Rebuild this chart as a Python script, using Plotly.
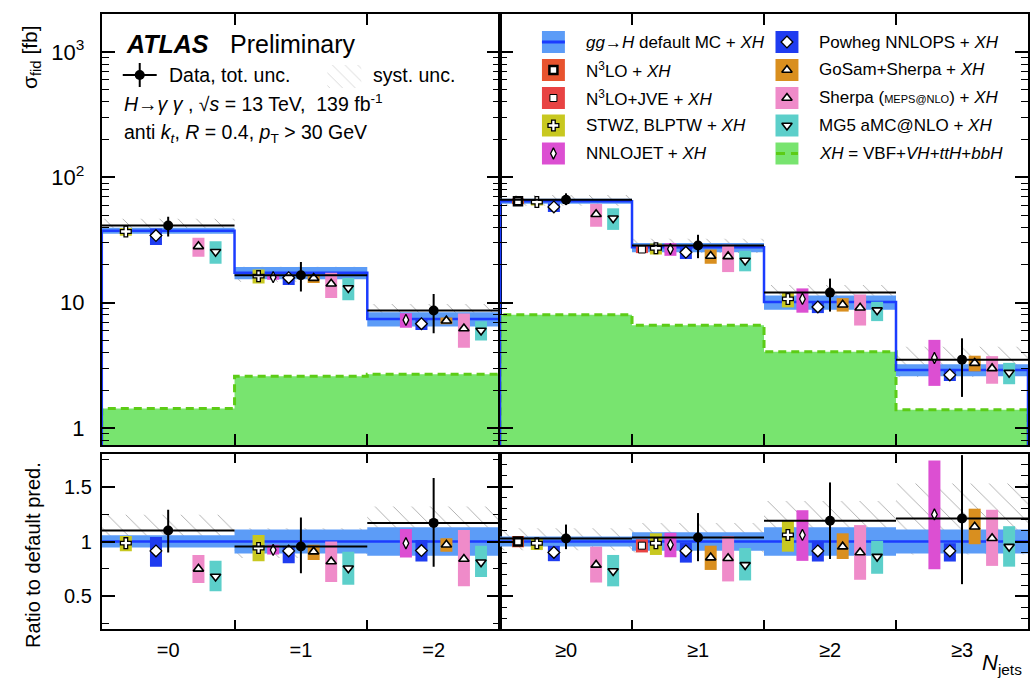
import plotly.graph_objects as go

FONT = "Liberation Sans, Arial, Helvetica, sans-serif"
W, H = 1030, 687

# ------------------------------------------------------------------ data
cat_left = ["=0", "=1", "=2"]
cat_right = ["≥0", "≥1", "≥2", "≥3"]

# default MC (gg->H + XH) cross sections [fb] and relative uncertainty
mc_default = [37.5, 17.3, 7.4, 64.5, 27.6, 10.1, 2.9]
mc_rel_unc = [0.056, 0.11, 0.13, 0.045, 0.085, 0.13, 0.11]
# XH = VBF+VH+ttH+bbH [fb]
xh_sigma = [1.43, 2.58, 2.68, 8.0, 6.6, 4.05, 1.4]

# data, as ratio to default prediction
data_ratio = [1.10, 0.955, 1.17, 1.027, 1.036, 1.19, 1.21]
data_err_up = [0.19, 0.265, 0.41, 0.128, 0.224, 0.35, 0.58]
data_err_dn = [0.20, 0.245, 0.40, 0.097, 0.216, 0.35, 0.60]
syst_lo = [0.955, 0.85, 1.02, 0.92, 0.90, 1.01, 0.88]
syst_hi = [1.245, 1.12, 1.32, 1.12, 1.17, 1.37, 1.53]

N = None
n3lo_ratio = [N, N, N, 1.0, N, N, N]
n3lo_lo = [N, N, N, 0.947, N, N, N]
n3lo_hi = [N, N, N, 1.05, N, N, N]
jve_ratio = [N, N, N, N, 0.962, N, N]
jve_lo = [N, N, N, N, 0.90, N, N]
jve_hi = [N, N, N, N, 1.02, N, N]
stwz_ratio = [0.985, 0.94, N, 0.984, 0.984, 1.06, N]
stwz_lo = [0.91, 0.82, N, 0.923, 0.877, 0.907, N]
stwz_hi = [1.05, 1.06, N, 1.03, 1.075, 1.195, N]
nnlojet_ratio = [N, 0.923, 0.984, N, 0.97, 1.06, 1.247]
nnlojet_lo = [N, 0.88, 0.853, N, 0.856, 0.823, 0.747]
nnlojet_hi = [N, 0.97, 1.114, N, 1.08, 1.286, 1.74]
powheg_ratio = [0.914, 0.914, 0.917, 0.90, 0.914, 0.914, 0.914]
powheg_lo = [0.77, 0.80, 0.817, 0.82, 0.807, 0.817, 0.817]
powheg_hi = [1.04, 0.953, 1.014, 0.96, 0.99, 1.007, 0.984]
gosam_ratio = [N, 0.907, 0.97, N, 0.853, 0.953, 1.135]
gosam_lo = [N, 0.83, 0.907, N, 0.74, 0.84, 0.975]
gosam_hi = [N, 0.97, 1.03, N, 0.962, 1.075, 1.30]
sherpa_ratio = [0.75, 0.817, 0.84, 0.786, 0.847, 0.90, 1.03]
sherpa_lo = [0.62, 0.63, 0.59, 0.625, 0.635, 0.65, 0.777]
sherpa_hi = [0.877, 1.0, 1.105, 0.953, 1.05, 1.15, 1.29]
mg5_ratio = [0.68, 0.756, 0.81, 0.73, 0.786, 0.862, 0.953]
mg5_lo = [0.545, 0.605, 0.675, 0.59, 0.644, 0.705, 0.77]
mg5_hi = [0.825, 0.907, 0.96, 0.877, 0.94, 1.007, 1.14]

# ------------------------------------------------------------------ styles
C_BAND = "#5c9cf7"
C_LINE = "#1b3cff"
C_XH_FILL = "#78e46f"
C_XH_LINE = "#5ccc16"
C_HATCH = "#555555"

# name, centre, lo, hi, colour, symbol, marker size, outline width, offset in bin
GENS = [
    ("N3LO", n3lo_ratio, n3lo_lo, n3lo_hi, "#e8532e", "square", 8, 2.5, -0.364),
    ("JVE", jve_ratio, jve_lo, jve_hi, "#e84343", "square", 7, 1.0, -0.425),
    ("STWZ", stwz_ratio, stwz_lo, stwz_hi, "#c8c820", "cross", 9, 1.3, -0.319),
    ("NNLOJET", nnlojet_ratio, nnlojet_lo, nnlojet_hi, "#dc4fd2", "diamond-tall", 8, 1.3, -0.209),
    ("Powheg", powheg_ratio, powheg_lo, powheg_hi, "#1f3cf0", "diamond", 9, 1.3, -0.092),
    ("GoSam", gosam_ratio, gosam_lo, gosam_hi, "#d98f1f", "triangle-up", 9, 1.6, 0.096),
    ("Sherpa", sherpa_ratio, sherpa_lo, sherpa_hi, "#ef8bc9", "triangle-up", 9, 1.6, 0.228),
    ("MG5", mg5_ratio, mg5_lo, mg5_hi, "#5ccfca", "triangle-down", 9, 1.6, 0.357),
]
OFFSET_OVERRIDE = {("STWZ", 3): -0.221}

BOX_W = 12

# pixel helpers
def fx(p):
    return p / W

def fy(p):
    return 1 - p / H

XL = [fx(102), fx(501)]
XR = [fx(501), 1.0]
YM = [fy(445), fy(14)]
YR = [fy(629), fy(454)]

fig = go.Figure()

PADS = [
    ([0, 1, 2], ("x", "y"), ("x3", "y3")),
    ([3, 4, 5, 6], ("x2", "y2"), ("x4", "y4")),
]


def rects(bins, lo_vals, hi_vals):
    xs, ys = [], []
    for k, b in enumerate(bins):
        x0, x1 = k - 0.5, k + 0.5
        xs += [x0, x1, x1, x0, x0, None]
        ys += [lo_vals[b], lo_vals[b], hi_vals[b], hi_vals[b], lo_vals[b], None]
    return xs, ys


for bins, (mx, my), (rx, ry) in PADS:
    nb = len(bins)
    for is_ratio, (xa, ya) in [(False, (mx, my)), (True, (rx, ry))]:
        scale = [1.0] * 7 if is_ratio else mc_default
        # XH green area (main only)
        if not is_ratio:
            xs, ys = [-0.5], [0.3]
            for k, b in enumerate(bins):
                xs += [k - 0.5, k + 0.5]
                ys += [xh_sigma[b], xh_sigma[b]]
            xs += [nb - 0.5]
            ys += [0.3]
            fig.add_trace(go.Scatter(x=xs, y=ys, mode="lines", fill="toself",
                                     fillcolor=C_XH_FILL, line=dict(width=0),
                                     xaxis=xa, yaxis=ya, hoverinfo="skip"))
            fig.add_trace(go.Scatter(x=xs, y=ys, mode="lines",
                                     line=dict(color=C_XH_LINE, width=3, dash="8px,5px"),
                                     xaxis=xa, yaxis=ya, hoverinfo="skip"))
        # systematic hatch
        lo = [syst_lo[i] * scale[i] for i in range(7)]
        hi = [syst_hi[i] * scale[i] for i in range(7)]
        xs, ys = rects(bins, lo, hi)
        fig.add_trace(go.Scatter(x=xs, y=ys, mode="lines", fill="toself",
                                 fillcolor="rgba(0,0,0,0)", line=dict(width=0),
                                 fillpattern=dict(shape="\\", fgcolor=C_HATCH,
                                                  bgcolor="rgba(0,0,0,0)", size=13, solidity=0.07),
                                 xaxis=xa, yaxis=ya, hoverinfo="skip"))
        # default MC band
        lo = [(1 - mc_rel_unc[i]) * scale[i] for i in range(7)]
        hi = [(1 + mc_rel_unc[i]) * scale[i] for i in range(7)]
        xs, ys = rects(bins, lo, hi)
        fig.add_trace(go.Scatter(x=xs, y=ys, mode="lines", fill="toself",
                                 fillcolor=C_BAND, line=dict(width=0),
                                 xaxis=xa, yaxis=ya, hoverinfo="skip"))
        # default MC line
        if is_ratio:
            xs, ys = [-0.5, nb - 0.5], [1, 1]
        else:
            xs, ys = [-0.5], [0.3]
            for k, b in enumerate(bins):
                xs += [k - 0.5, k + 0.5]
                ys += [mc_default[b], mc_default[b]]
            xs += [nb - 0.5]
            ys += [0.3]
        fig.add_trace(go.Scatter(x=xs, y=ys, mode="lines",
                                 line=dict(color=C_LINE, width=2.5),
                                 xaxis=xa, yaxis=ya, hoverinfo="skip"))
        # predictions
        for name, cen, glo, ghi, col, sym, msz, mlw, off in GENS:
            bx, by, px_, py_ = [], [], [], []
            for k, b in enumerate(bins):
                if cen[b] is None:
                    continue
                o = OFFSET_OVERRIDE.get((name, b), off)
                bx += [k + o, k + o, None]
                by += [glo[b] * scale[b], ghi[b] * scale[b], None]
                px_.append(k + o)
                py_.append(cen[b] * scale[b])
            if not px_:
                continue
            fig.add_trace(go.Scatter(x=bx, y=by, mode="lines",
                                     line=dict(color=col, width=BOX_W),
                                     xaxis=xa, yaxis=ya, hoverinfo="skip"))
            fig.add_trace(go.Scatter(x=px_, y=py_, mode="markers",
                                     marker=dict(symbol=sym, size=msz, color="white",
                                                 line=dict(color="black", width=mlw)),
                                     xaxis=xa, yaxis=ya, hoverinfo="skip"))
        # data
        dx = list(range(nb))
        dy = [data_ratio[b] * scale[b] for b in bins]
        eu = [data_err_up[b] * scale[b] for b in bins]
        ed = [data_err_dn[b] * scale[b] for b in bins]
        fig.add_trace(go.Scatter(x=dx, y=dy, mode="markers",
                                 marker=dict(symbol="circle", size=10, color="black"),
                                 error_y=dict(type="data", array=eu, arrayminus=ed,
                                              color="black", thickness=2, width=0),
                                 error_x=dict(type="constant", value=0.5,
                                              color="black", thickness=2, width=0),
                                 xaxis=xa, yaxis=ya, hoverinfo="skip"))

# ------------------------------------------------------------------ legend (overlay axis in pixels)
OV = dict(xaxis="x5", yaxis="y5", hoverinfo="skip")
fig.add_trace(go.Scatter(x=[140], y=[75], mode="markers",
                         marker=dict(size=10, color="black"),
                         error_y=dict(type="constant", value=12, color="black", thickness=2, width=0),
                         error_x=dict(type="constant", value=17, color="black", thickness=2, width=0),
                         **OV))
fig.add_trace(go.Scatter(x=[328, 362, 362, 328, 328], y=[65, 65, 88, 88, 65], mode="lines",
                         fill="toself", fillcolor="rgba(0,0,0,0)", line=dict(width=0),
                         fillpattern=dict(shape="\\", fgcolor="#999999", bgcolor="rgba(0,0,0,0)",
                                          size=9, solidity=0.08),
                         **OV))

ROWS = [42, 70, 98, 125.5, 153.5]
C1X, C2X = 554.5, 788.5
shapes = []


def box(cx, cy, color):
    shapes.append(dict(type="rect", xref="paper", yref="paper",
                       x0=fx(cx - 11.5), x1=fx(cx + 11.5), y0=fy(cy + 11), y1=fy(cy - 11),
                       fillcolor=color, line=dict(width=0), layer="below"))


legend_pos = {
    "N3LO": (C1X, ROWS[1]), "JVE": (C1X, ROWS[2]), "STWZ": (C1X, ROWS[3]),
    "NNLOJET": (C1X, ROWS[4]), "Powheg": (C2X, ROWS[0]), "GoSam": (C2X, ROWS[1]),
    "Sherpa": (C2X, ROWS[2]), "MG5": (C2X, ROWS[3]),
}
box(C1X, ROWS[0], C_BAND)
box(C2X, ROWS[4], C_XH_FILL)
fig.add_trace(go.Scatter(x=[C1X - 11.5, C1X + 11.5], y=[ROWS[0], ROWS[0]], mode="lines",
                         line=dict(color=C_LINE, width=3), **OV))
for name, cen, glo, ghi, col, sym, msz, mlw, off in GENS:
    lx, ly = legend_pos[name]
    box(lx, ly, col)
    fig.add_trace(go.Scatter(x=[lx], y=[ly], mode="markers",
                             marker=dict(symbol=sym, size=msz, color="white",
                                         line=dict(color="black", width=mlw)), **OV))
fig.add_trace(go.Scatter(x=[C2X - 11, C2X + 11], y=[ROWS[4], ROWS[4]], mode="lines",
                         line=dict(color=C_XH_LINE, width=3, dash="9px,6px"), **OV))

# ------------------------------------------------------------------ text
ann = []


def text(x, y, s, size, xanchor="left", angle=0, yanchor="middle"):
    ann.append(dict(x=fx(x), y=fy(y), xref="paper", yref="paper", text=s, showarrow=False,
                    xanchor=xanchor, yanchor=yanchor, textangle=angle,
                    font=dict(family=FONT, size=size, color="black")))


text(124, 44, "<b><i>ATLAS</i></b>", 25)
text(228, 44, "Preliminary", 25)
text(167, 75, "Data, tot. unc.", 19.5)
text(372, 75, "syst. unc.", 19.5)
text(122, 103, "<i>H</i>→<i>γ γ</i> , √<i>s</i> = 13 TeV,  139 fb<sup>-1</sup>", 19.5)
text(122, 134, "anti <i>k</i><sub><i>t</i></sub>, <i>R</i> = 0.4, <i>p</i><sub>T</sub> > 30 GeV", 19.5)

legend_text = [
    (585, ROWS[0], "<i>gg</i>→<i>H</i> default MC + <i>XH</i>"),
    (585, ROWS[1], "N<sup>3</sup>LO + <i>XH</i>"),
    (585, ROWS[2], "N<sup>3</sup>LO+JVE + <i>XH</i>"),
    (585, ROWS[3], "STWZ, BLPTW + <i>XH</i>"),
    (585, ROWS[4], "NNLOJET + <i>XH</i>"),
    (819, ROWS[0], "Powheg NNLOPS + <i>XH</i>"),
    (819, ROWS[1], "GoSam+Sherpa + <i>XH</i>"),
    (819, ROWS[2], "Sherpa (<span style='font-size:11px'>MEPS@NLO</span>) + <i>XH</i>"),
    (819, ROWS[3], "MG5 aMC@NLO + <i>XH</i>"),
    (819, ROWS[4], "<i>XH</i> = VBF+<i>VH</i>+<i>ttH</i>+<i>bbH</i>"),
]
for x, y, s in legend_text:
    text(x, y, s, 17)

text(31, 57, "σ<sub>fid</sub> [fb]", 21, xanchor="center", angle=-90)
text(33, 555, "Ratio to default pred.", 20, xanchor="center", angle=-90)
text(1026, 664, "<i>N</i><sub>jets</sub>", 22, xanchor="right")

# ------------------------------------------------------------------ axes
minor_log = [m * d for d in (0.1, 1, 10, 100, 1000) for m in range(2, 10) if 0.7 < m * d < 2100]
minor_ratio_l = [0.25, 0.75, 1.25, 1.75]
minor_ratio_r = [round(0.3 + 0.1 * i, 2) for i in range(15) if round(0.3 + 0.1 * i, 2) not in (0.5, 1.0, 1.5)]

AX = dict(showline=True, linecolor="black", linewidth=2, mirror="ticks", showgrid=False,
          zeroline=False, tickcolor="black", tickwidth=1.5)


def y_main(dom, labels):
    return dict(AX, type="log", range=[-0.136, 3.303], domain=dom, ticks="inside", ticklen=13,
                tickmode="array", tickvals=[1, 10, 100, 1000],
                ticktext=["1", "10", "10<sup>2</sup>", "10<sup>3</sup>"],
                showticklabels=labels, ticklabelstandoff=11,
                tickfont=dict(family=FONT, size=22, color="black"),
                minor=dict(tickmode="array", tickvals=minor_log, ticks="inside", ticklen=7,
                           tickwidth=1.2, tickcolor="black", showgrid=False))


def y_ratio(dom, labels, minor_vals):
    return dict(AX, range=[0.2, 1.8], domain=dom, ticks="inside", ticklen=13,
                tickmode="array", tickvals=[0.5, 1, 1.5], ticktext=["0.5", "1", "1.5"],
                showticklabels=labels, ticklabelstandoff=4,
                tickfont=dict(family=FONT, size=20, color="black"),
                minor=dict(tickmode="array", tickvals=minor_vals, ticks="inside", ticklen=7,
                           tickwidth=1.2, tickcolor="black", showgrid=False))


def x_main(dom, nb):
    return dict(AX, range=[-0.5, nb - 0.5], domain=dom, ticks="inside", ticklen=11,
                tickmode="array", tickvals=[k + 0.5 for k in range(nb - 1)],
                showticklabels=False)


def x_ratio(dom, cats):
    nb = len(cats)
    return dict(AX, range=[-0.5, nb - 0.5], domain=dom, ticks="", tickmode="array",
                tickvals=list(range(nb)), ticktext=cats, ticklabelstandoff=2,
                tickfont=dict(family=FONT, size=20, color="black"),
                minor=dict(tickmode="array", tickvals=[k + 0.5 for k in range(nb - 1)],
                           ticks="inside", ticklen=9, tickwidth=1.5, tickcolor="black",
                           showgrid=False))


fig.update_layout(
    width=W, height=H,
    margin=dict(l=0, r=0, t=0, b=0),
    paper_bgcolor="white", plot_bgcolor="rgba(0,0,0,0)",
    showlegend=False,
    font=dict(family=FONT, color="black"),
    xaxis=dict(x_main(XL, 3), anchor="y"),
    yaxis=dict(y_main(YM, True), anchor="x"),
    xaxis2=dict(x_main(XR, 4), anchor="y2"),
    yaxis2=dict(y_main(YM, False), anchor="x2"),
    xaxis3=dict(x_ratio(XL, cat_left), anchor="y3"),
    yaxis3=dict(y_ratio(YR, True, minor_ratio_l), anchor="x3"),
    xaxis4=dict(x_ratio(XR, cat_right), anchor="y4"),
    yaxis4=dict(y_ratio(YR, False, minor_ratio_r), anchor="x4"),
    xaxis5=dict(domain=[0, 1], range=[0, W], visible=False, anchor="y5", fixedrange=True),
    yaxis5=dict(domain=[0, 1], range=[H, 0], visible=False, anchor="x5", fixedrange=True),
    annotations=ann,
    shapes=shapes,
)

fig.write_html(
    "out.html",
    config={"displayModeBar": False},
    post_script="document.body.style.margin='0';document.body.style.overflow='hidden';",
)
